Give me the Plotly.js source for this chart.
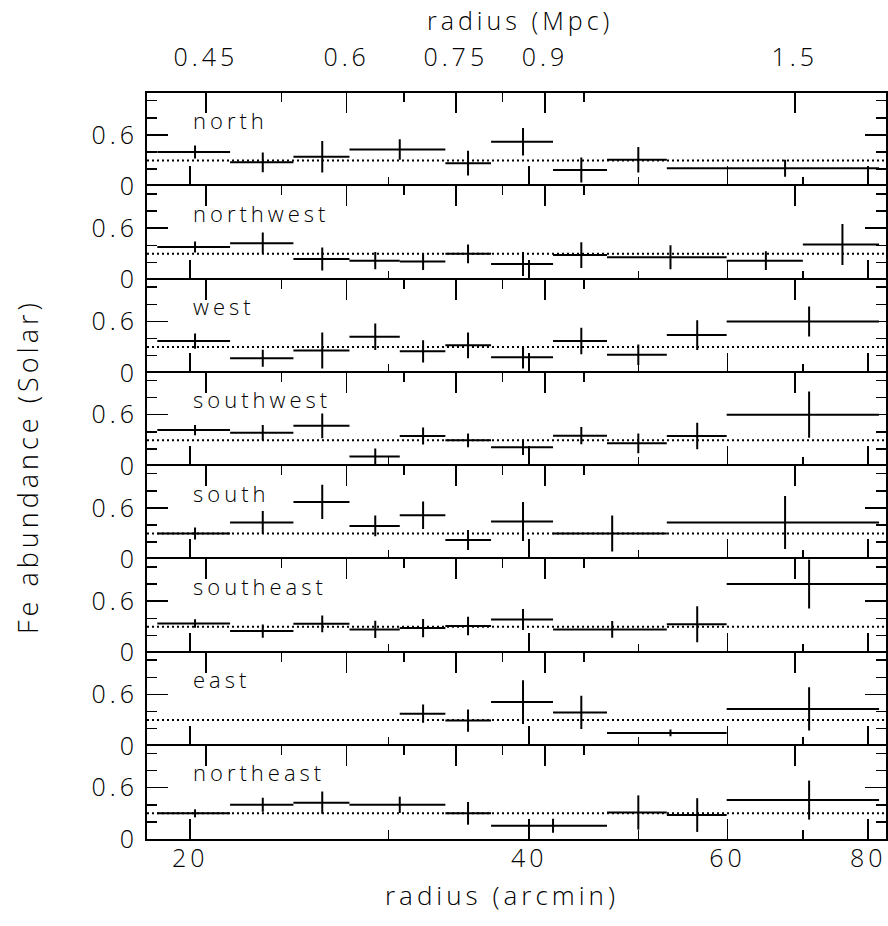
<!DOCTYPE html>
<html>
<head>
<meta charset="utf-8">
<script src="https://cdn.plot.ly/plotly-3.0.1.min.js"></script>
<style>
  html, body { margin: 0; padding: 0; background: #fff; }
  #chart { width: 888px; height: 926px; }
  svg text { letter-spacing: 4px; }
</style>
</head>
<body>
<div id="chart"></div>
<script>
// ---------- data ----------
const arcminPerMpc = 45.9;          // conversion used for the top axis
const xMin = 18.31, xMax = 82.97;   // radius range (arcmin)
const feMin = 0, feMax = 1.09;      // abundance range per panel
const feMean = 0.3;                 // dotted reference level

const panelNames = ['north', 'northwest', 'west', 'southwest', 'south', 'southeast', 'east', 'northeast'];

const northR   = [20.2, 23.2, 26.2, 30.7, 35.3, 39.5, 44.5, 50.0, 67.5];
const northLo  = [18.7, 21.7, 24.7, 27.7, 33.7, 37.0, 42.0, 46.9, 53.0];
const northHi  = [21.7, 24.7, 27.7, 33.7, 37.0, 42.0, 46.9, 53.0, 81.8];
const northFe  = [0.40, 0.28, 0.345, 0.43, 0.27, 0.52, 0.19, 0.31, 0.21];
const northErr = [0.075, 0.115, 0.185, 0.12, 0.145, 0.16, 0.145, 0.15, 0.10];

const northwestR   = [20.2, 23.2, 26.2, 29.2, 32.2, 35.3, 39.5, 44.5, 53.4, 64.9, 75.9];
const northwestLo  = [18.7, 21.7, 24.7, 27.7, 30.7, 33.7, 37.0, 42.0, 46.9, 59.9, 70.0];
const northwestHi  = [21.7, 24.7, 27.7, 30.7, 33.7, 37.0, 42.0, 46.9, 59.9, 70.0, 81.8];
const northwestFe  = [0.38, 0.425, 0.24, 0.22, 0.21, 0.30, 0.18, 0.285, 0.26, 0.22, 0.41];
const northwestErr = [0.065, 0.125, 0.135, 0.10, 0.10, 0.11, 0.14, 0.15, 0.14, 0.11, 0.24];

const westR   = [20.2, 23.2, 26.2, 29.2, 32.2, 35.3, 39.5, 44.5, 50.0, 56.4, 70.9];
const westLo  = [18.7, 21.7, 24.7, 27.7, 30.7, 33.7, 37.0, 42.0, 46.9, 53.0, 59.9];
const westHi  = [21.7, 24.7, 27.7, 30.7, 33.7, 37.0, 42.0, 46.9, 53.0, 59.9, 81.8];
const westFe  = [0.37, 0.17, 0.26, 0.42, 0.25, 0.32, 0.18, 0.37, 0.21, 0.44, 0.60];
const westErr = [0.09, 0.10, 0.21, 0.155, 0.13, 0.15, 0.13, 0.155, 0.12, 0.175, 0.175];

const southwestR   = [20.2, 23.2, 26.2, 29.2, 32.2, 35.3, 39.5, 44.5, 50.0, 56.4, 70.9];
const southwestLo  = [18.7, 21.7, 24.7, 27.7, 30.7, 33.7, 37.0, 42.0, 46.9, 53.0, 59.9];
const southwestHi  = [21.7, 24.7, 27.7, 30.7, 33.7, 37.0, 42.0, 46.9, 53.0, 59.9, 81.8];
const southwestFe  = [0.42, 0.39, 0.47, 0.11, 0.35, 0.30, 0.22, 0.355, 0.265, 0.35, 0.60];
const southwestErr = [0.06, 0.09, 0.145, 0.095, 0.10, 0.08, 0.09, 0.10, 0.115, 0.155, 0.27];

const southR   = [20.2, 23.2, 26.2, 29.2, 32.2, 35.3, 39.5, 47.4, 67.5];
const southLo  = [18.7, 21.7, 24.7, 27.7, 30.7, 33.7, 37.0, 42.0, 53.0];
const southHi  = [21.7, 24.7, 27.7, 30.7, 33.7, 37.0, 42.0, 53.0, 81.8];
const southFe  = [0.30, 0.43, 0.67, 0.39, 0.515, 0.226, 0.44, 0.30, 0.43];
const southErr = [0.07, 0.135, 0.20, 0.12, 0.16, 0.117, 0.228, 0.21, 0.31];

const southeastR   = [20.2, 23.2, 26.2, 29.2, 32.2, 35.3, 39.5, 47.4, 56.4, 70.9];
const southeastLo  = [18.7, 21.7, 24.7, 27.7, 30.7, 33.7, 37.0, 42.0, 53.0, 59.9];
const southeastHi  = [21.7, 24.7, 27.7, 30.7, 33.7, 37.0, 42.0, 53.0, 59.9, 81.8];
const southeastFe  = [0.34, 0.25, 0.335, 0.27, 0.285, 0.31, 0.385, 0.27, 0.33, 0.80];
const southeastErr = [0.05, 0.078, 0.097, 0.10, 0.107, 0.107, 0.123, 0.097, 0.21, 0.287];

const eastR   = [32.2, 35.3, 39.5, 44.5, 53.4, 70.9];
const eastLo  = [30.7, 33.7, 37.0, 42.0, 46.9, 59.9];
const eastHi  = [33.7, 37.0, 42.0, 46.9, 59.9, 81.8];
const eastFe  = [0.375, 0.295, 0.51, 0.39, 0.15, 0.43];
const eastErr = [0.107, 0.13, 0.257, 0.193, 0.04, 0.253];

const northeastR   = [20.2, 23.2, 26.2, 30.7, 35.3, 42.0, 50.0, 56.4, 70.9];
const northeastLo  = [18.7, 21.7, 24.7, 27.7, 33.7, 37.0, 46.9, 53.0, 59.9];
const northeastHi  = [21.7, 24.7, 27.7, 33.7, 37.0, 46.9, 53.0, 59.9, 81.8];
const northeastFe  = [0.30, 0.40, 0.425, 0.40, 0.30, 0.155, 0.31, 0.28, 0.455];
const northeastErr = [0.047, 0.082, 0.13, 0.095, 0.133, 0.082, 0.20, 0.197, 0.228];

// tick definitions
const arcminMajor  = [20, 40, 60, 80];
const arcminLabels = ['20', '40', '60', '80'];
const arcminMinor  = [30, 50, 70];
const mpcMajor  = [0.45, 0.6, 0.75, 0.9, 1.5];
const mpcLabels = ['0.45', '0.6', '0.75', '0.9', '1.5'];
const mpcMinor  = [0.525, 0.675, 0.825, 0.975];
const feTicks  = [0, 0.6];
const feLabels = ['0', '0.6'];
const feMinor  = [0.2, 0.4, 0.8, 1.0];

// ---------- build ----------
const panelData = [
  [northR, northLo, northHi, northFe, northErr],
  [northwestR, northwestLo, northwestHi, northwestFe, northwestErr],
  [westR, westLo, westHi, westFe, westErr],
  [southwestR, southwestLo, southwestHi, southwestFe, southwestErr],
  [southR, southLo, southHi, southFe, southErr],
  [southeastR, southeastLo, southeastHi, southeastFe, southeastErr],
  [eastR, eastLo, eastHi, eastFe, eastErr],
  [northeastR, northeastLo, northeastHi, northeastFe, northeastErr]
];

const FONT = 'Open Sans, DejaVu Sans, sans-serif';
const W = 300;
const nP = panelNames.length;
const xRange = [Math.log10(xMin), Math.log10(xMax)];
const traces = [];
const shapes = [];
const annotations = [];
const layout = {
  width: 888, height: 926,
  margin: {l: 147, r: 2, t: 93, b: 87},
  paper_bgcolor: '#fff', plot_bgcolor: '#fff',
  showlegend: false,
  font: {family: FONT, size: 25, color: '#000', weight: W}
};
const tickFont = {family: FONT, size: 25, color: '#000', weight: W};
const tickStyle = {ticks: 'inside', tickwidth: 1.5, tickcolor: '#000', showgrid: false, zeroline: false};

// invisible carrier trace so that an overlay axis gets drawn
function carrier(xa, ya, r, fe, label) {
  return {type: 'scatter', mode: 'markers', x: r, y: fe, name: label,
          xaxis: xa, yaxis: ya, marker: {size: 0, opacity: 0}, hoverinfo: 'skip'};
}

panelNames.forEach((name, k) => {
  const n = k + 1;
  const xa = 'x' + n, ya = 'y' + n;
  const idTop = n + nP, idBotMinor = n + 2 * nP, idTopMinor = n + 3 * nP;
  const [r, lo, hi, fe, err] = panelData[k];

  traces.push({
    type: 'scatter', mode: 'markers',
    x: r, y: fe, name: name,
    xaxis: xa, yaxis: ya,
    marker: {size: 0, color: '#000', opacity: 0},
    error_x: {type: 'data', symmetric: false,
              array: r.map((v, i) => hi[i] - v),
              arrayminus: r.map((v, i) => v - lo[i]),
              width: 0, thickness: 2, color: '#000'},
    error_y: {type: 'data', array: err, width: 0, thickness: 2, color: '#000'},
    hoverinfo: 'x+y'
  });
  traces.push(carrier('x' + idTop, ya, r, fe, name + ' (Mpc)'));
  traces.push(carrier('x' + idBotMinor, ya, r, fe, name + ' (minor)'));
  traces.push(carrier('x' + idTopMinor, ya, r, fe, name + ' (Mpc minor)'));

  const top = 1 - k / nP, bot = 1 - (k + 1) / nP;
  layout['yaxis' + n] = Object.assign({}, tickStyle, {
    domain: [bot, top], anchor: xa, range: [feMin, feMax],
    tickmode: 'array', tickvals: feTicks, ticktext: feLabels, ticklen: 21,
    minor: {tickmode: 'array', tickvals: feMinor, ticks: 'inside', ticklen: 10, tickwidth: 1.5, tickcolor: '#000'},
    showline: true, linewidth: 2, linecolor: '#000', mirror: 'ticks',
    ticklabelstandoff: 2, tickfont: tickFont
  });
  // bottom: arcmin, major
  layout['xaxis' + n] = Object.assign({}, tickStyle, {
    type: 'log', range: xRange, anchor: ya, side: 'bottom',
    tickmode: 'array', tickvals: arcminMajor, ticktext: arcminLabels, ticklen: 20,
    showticklabels: k === nP - 1,
    showline: k === nP - 1, linewidth: 2, linecolor: '#000',
    ticklabelstandoff: -4, tickfont: tickFont
  });
  // bottom: arcmin, minor
  layout['xaxis' + idBotMinor] = Object.assign({}, tickStyle, {
    type: 'log', range: xRange, anchor: ya, overlaying: xa, side: 'bottom',
    tickmode: 'array', tickvals: arcminMinor, ticklen: 9,
    showticklabels: false, showline: false
  });
  // top: Mpc, major
  layout['xaxis' + idTop] = Object.assign({}, tickStyle, {
    type: 'log', range: xRange, anchor: ya, overlaying: xa, side: 'top',
    tickmode: 'array', tickvals: mpcMajor.map(m => m * arcminPerMpc), ticktext: mpcLabels, ticklen: 20,
    showticklabels: k === 0,
    showline: true, linewidth: 2, linecolor: '#000',
    ticklabelstandoff: 15, tickfont: tickFont
  });
  // top: Mpc, minor
  layout['xaxis' + idTopMinor] = Object.assign({}, tickStyle, {
    type: 'log', range: xRange, anchor: ya, overlaying: xa, side: 'top',
    tickmode: 'array', tickvals: mpcMinor.map(m => m * arcminPerMpc), ticklen: 9,
    showticklabels: false, showline: false
  });

  shapes.push({
    type: 'line', xref: xa + ' domain', x0: 0, x1: 1,
    yref: ya, y0: feMean, y1: feMean,
    line: {color: '#000', width: 2, dash: '2px,3px'}
  });

  annotations.push({
    text: name, showarrow: false,
    xref: 'paper', x: 0.0595, xanchor: 'left',
    yref: ya + ' domain', y: 0.715, yanchor: 'middle',
    font: {family: FONT, size: 22, color: '#000', weight: W}
  });
});

annotations.push({
  text: 'radius (arcmin)', showarrow: false,
  xref: 'paper', x: 0.4804, xanchor: 'center',
  yref: 'paper', y: -0.075, yanchor: 'middle',
  font: {family: FONT, size: 26, color: '#000', weight: W}
});
annotations.push({
  text: 'radius (Mpc)', showarrow: false,
  xref: 'paper', x: 0.5047, xanchor: 'center',
  yref: 'paper', y: 1.0975, yanchor: 'middle',
  font: {family: FONT, size: 25, color: '#000', weight: W}
});
annotations.push({
  text: 'Fe abundance (Solar)', showarrow: false, textangle: -90,
  xref: 'paper', x: -0.1624, xanchor: 'center',
  yref: 'paper', y: 0.5, yanchor: 'middle',
  font: {family: FONT, size: 27, color: '#000', weight: W}
});

layout.shapes = shapes;
layout.annotations = annotations;

Plotly.newPlot('chart', traces, layout, {displayModeBar: false, staticPlot: true});
</script>
</body>
</html>
